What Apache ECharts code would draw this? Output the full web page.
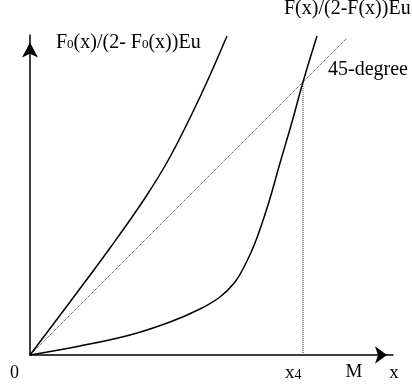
<!DOCTYPE html>
<html><head><meta charset="utf-8">
<script src="https://cdn.jsdelivr.net/npm/echarts@6/dist/echarts.min.js"></script>
<style>html,body{margin:0;padding:0;background:#fff}#c{width:412px;height:389px}</style>
</head><body><div id="c"></div>
<script>
// data (generic units)
const xMax = 363, yMax = 320;
const curveF0 = [[0,0],[40,53],[80,107],[115,157],[140,198],[170,258],[197,319]];
const curveF = [[0,0],[50,9],[100,20],[140,33],[170,46],[190,58],[205,73],[215,90],[225,112],[238,150],[250,192],[262,233],[273,273],[287,319]];
const diag = [[0,0],[317,317]];
const x4 = 273, M = 325;
const vline = [[x4,0],[x4,273]];
const labelF = 'F(x)/(2-F(x))Eu';
const labelF0 = ['F','0','(x)/(2- ','F','0','(x))Eu'];
const labelDiag = '45-degree';

const chart = echarts.init(document.getElementById('c'), null, {renderer:'canvas'});
const FONT = 'Liberation Serif';
const axisCommon = {
  type:'value', min:0,
  axisTick:{show:false}, axisLabel:{show:false}, splitLine:{show:false},
};
chart.setOption({
  animation:false,
  backgroundColor:'#fff',
  grid:{left:30, right:19, top:35, bottom:34},
  xAxis:Object.assign({}, axisCommon, {max:xMax,
    axisLine:{show:true, symbol:['none','arrow'], symbolSize:[13,12], symbolOffset:[0,-6], lineStyle:{color:'#000', width:1.5}}}),
  yAxis:Object.assign({}, axisCommon, {max:yMax,
    axisLine:{show:true, symbol:['none','arrow'], symbolSize:[12,15], symbolOffset:[0,-7.5], lineStyle:{color:'#000', width:1.5}}}),
  series:[
    {type:'line', data:diag, showSymbol:false, lineStyle:{color:'#333', width:1, type:'dotted'}},
    {type:'line', data:vline, showSymbol:false, lineStyle:{color:'#333', width:1, type:'dotted'}},
    {type:'line', data:curveF0, smooth:0.4, showSymbol:false, lineStyle:{color:'#000', width:1.5}},
    {type:'line', data:curveF, smooth:0.4, showSymbol:false, lineStyle:{color:'#000', width:1.5}},
  ]
});

function px(x,y){ return chart.convertToPixel({gridIndex:0}, [x,y]); }
const o = px(0,0), p4 = px(x4,0), pM = px(M,0), pEnd = px(xMax,0);
const richMain = {a:{fontFamily:FONT, fontSize:20, color:'#000'}, s:{fontFamily:FONT, fontSize:13, color:'#000', verticalAlign:'bottom', padding:[0,0,2,0]}};
function t(text, x, y, align, size){
  return {type:'text', x:x, y:y, style:{text:text, font:(size||20)+'px "'+FONT+'"', fill:'#000', align:align||'left', verticalAlign:'middle'}};
}
const f0Rich = labelF0.map((s,i)=> (i===1||i===4) ? '{s|'+s+'}' : '{a|'+s+'}').join('');
chart.setOption({graphic:[
  t(labelF, 284, 8.5),
  {type:'text', x:56, y:43, style:{text:f0Rich, rich:richMain, fill:'#000', align:'left', verticalAlign:'middle'}},
  t(labelDiag, 328, 69.5),
  t('0', o[0]-15.5, 373, 'center', 18),
  {type:'text', x:p4[0]-18, y:373, style:{text:'{a|x}{b|4}', rich:{a:{fontFamily:FONT, fontSize:19, color:'#000'}, b:{fontFamily:FONT, fontSize:14, color:'#000', verticalAlign:'bottom', padding:[0,0,0,0]}}, align:'left', verticalAlign:'middle'}},
  t('M', pM[0]-1, 372, 'center', 19),
  t('x', pEnd[0]+1, 373, 'center', 19),
]});
</script></body></html>
